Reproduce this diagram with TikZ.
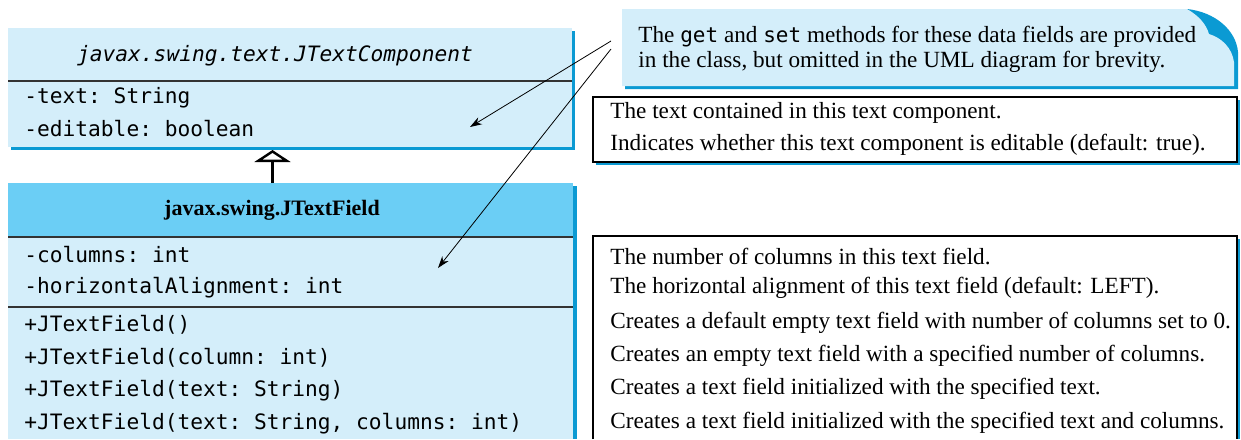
\documentclass[tikz,border=0pt]{standalone}
\usepackage{fontspec}
\setmainfont{Liberation Serif}
\setmonofont{DejaVu Sans Mono}
\usepackage{xcolor}
\usepackage{tikz}
\usetikzlibrary{arrows.meta}
\definecolor{umlfill}{HTML}{D4EEFA}
\definecolor{umlhead}{HTML}{6BCEF5}
\definecolor{umlshade}{HTML}{0B9AD3}
\definecolor{rulegray}{HTML}{333333}
\newcommand{\codeword}[1]{{\fontsize{10.5}{12}\ttfamily #1}}
\tikzset{
  member/.style={anchor=west, inner sep=0pt, font=\fontsize{10.6}{12}\ttfamily},
  remark/.style={anchor=west, inner sep=0pt, font=\fontsize{11.6}{14}\selectfont},
  classsep/.style={rulegray, line width=0.8pt},
  pointer/.style={line width=0.4pt, -{Stealth[length=6pt, width=4pt]}},
}

\begin{document}
\begin{tikzpicture}[x=0.5pt, y=-0.5pt]
    \useasboundingbox (0,0) rectangle (1241,439);
    % superclass
    \fill[umlshade] (11,31) rectangle (575,150);
    \fill[umlfill] (8,28) rectangle (572,147);
    \draw[classsep] (8,81) -- (572,81);
    \node[inner sep=0pt, font=\fontsize{10.6}{12}\ttfamily\itshape] (supername) at (275,56) {javax.swing.text.JTextComponent};
    \node[member] (ftext) at (24,98) {-text: String};
    \node[member] (feditable) at (24,129) {-editable: boolean};
    % subclass
    \fill[umlshade] (12,186) rectangle (577,439);
    \fill[umlfill] (8,183) rectangle (573,439);
    \fill[umlhead] (8,183) rectangle (573,237);
    \draw[classsep] (8,237) -- (573,237);
    \draw[classsep] (8,307) -- (573,307);
    \node[inner sep=0pt, font=\fontsize{11}{13}\bfseries] (subname) at (272,210) {javax.swing.JTextField};
    \node[member] (fcolumns) at (24,255) {-columns: int};
    \node[member] (falign) at (24,288) {-horizontalAlignment: int};
    \node[member] (mnone) at (24,325) {+JTextField()};
    \node[member] (mcol) at (24,358) {+JTextField(column: int)};
    \node[member] (mtext) at (24,391) {+JTextField(text: String)};
    \node[member] (mboth) at (24,424) {+JTextField(text: String, columns: int)};
    % inheritance
    \coordinate (apex) at (272.5,150);
    \draw[line width=1.2pt, -{Triangle[open, length=6pt, width=18pt, line width=1.2pt]}] (272.5,183) -- (apex);
    % callout
    \fill[umlshade] (625,13) -- (1187,9) .. controls (1215,12) and (1236,30) .. (1238,52) -- (1238,89) -- (625,89) -- cycle;
    \fill[umlfill] (622,9) -- (1187,9) .. controls (1199,16) and (1206,24) .. (1209,34)
        .. controls (1222,38) and (1232,48) .. (1234,62) -- (1234,86) -- (622,86) -- cycle;
    \node[remark] (callone) at (638,37) {The \codeword{get} and \codeword{set} methods for these data fields are provided};
    \node[remark] (calltwo) at (638,62) {in the class, but omitted in the UML diagram for brevity.};
    % description boxes
    \fill[umlshade] (596,100) rectangle (1240,165);
    \draw[fill=white, line width=0.6pt] (593,97) rectangle (1237,162);
    \node[remark] (dtext) at (610,113) {The text contained in this text component.};
    \node[remark] (deditable) at (610,145) {Indicates whether this text component is editable (default: true).};
    \fill[umlshade] (596,239) rectangle (1240,439);
    \fill[white] (593,236) rectangle (1237,439);
    \draw[line width=0.6pt] (593,439) |- (1237,236) -- (1237,439);
    \node[remark] (dcolumns) at (610,256) {The number of columns in this text field.};
    \node[remark] (dalign) at (610,288) {The horizontal alignment of this text field (default: LEFT).};
    \node[remark] (dnone) at (610,323) {Creates a default empty text field with number of columns set to 0.};
    \node[remark] (dcol) at (610,356) {Creates an empty text field with a specified number of columns.};
    \node[remark] (dtextc) at (610,389) {Creates a text field initialized with the specified text.};
    \node[remark] (dboth) at (610,423) {Creates a text field initialized with the specified text and columns.};
    % pointers from the callout
    \coordinate (startA) at (611,41);
    \coordinate (startB) at (611,49);
    \coordinate (endA) at (470,127);
    \coordinate (endB) at (438,268);
    \draw[pointer] (startA) -- (endA);
    \draw[pointer] (startB) -- (endB);
\end{tikzpicture}
\end{document}
